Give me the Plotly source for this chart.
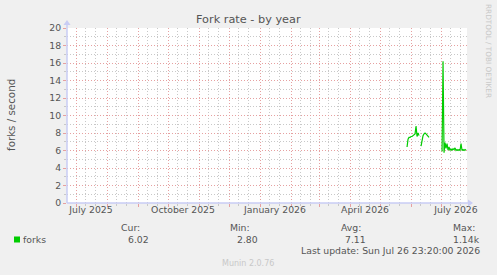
import pandas as pd
import plotly.graph_objects as go

# ---- data ----
seg1_start = "2026-05-28"
seg1_values = [6.4, 7.3, 7.5, 7.5, 7.6, 7.6, 7.7, 7.8, 7.9, 8.8, 7.6, 8.0, 7.7]
seg2_start = "2026-06-11"
seg2_values = [6.5, 7.4, 7.7, 7.9, 8.0, 7.9, 7.8, 7.7, 7.5]
seg3_start = "2026-07-02"
seg3_values = [5.9, 16.2, 5.75, 6.9, 6.25, 6.8, 6.05, 6.4, 6.0, 6.2, 6.0, 6.2, 6.1,
               6.3, 6.0, 6.1, 6.0, 6.1, 6.0, 6.8, 6.0, 6.1, 6.0, 6.1, 6.02]

x_start = "2025-06-21 23:20:00"
x_end = "2026-07-26 23:20:00"
month_starts = pd.date_range("2025-07-01", "2026-07-01", freq="MS")
minor_days = [d + pd.Timedelta(days=k) for d in month_starts.insert(0, pd.Timestamp("2025-06-01")) for k in (9, 19)]
label_dates = ["2025-07-16", "2025-10-16", "2026-01-16", "2026-04-16", "2026-07-16"]
label_texts = ["July 2025", "October 2025", "January 2026", "April 2026", "July 2026"]
y_ticks = list(range(0, 21, 2))

legend_name = "forks"
stat_labels = ["Cur:", "Min:", "Avg:", "Max:"]
stat_values = ["6.02", "2.80", "7.11", "1.14k"]
title = "Fork rate - by year"
y_title = "forks / second"
last_update = "Last update: Sun Jul 26 23:20:00 2026"
footer = "Munin 2.0.76"
side_text = "RRDTOOL / TOBI OETIKER"

# ---- build series ----
xs, ys = [], []
for start, vals in [(seg1_start, seg1_values), (seg2_start, seg2_values), (seg3_start, seg3_values)]:
    d = pd.date_range(start, periods=len(vals), freq="D")
    xs += list(d) + [d[-1] + pd.Timedelta(days=1)]
    ys += list(vals) + [None]

W, H = 497, 275
L, T, PW, PH = 67, 28, 400, 175
def px(x): return (x - L) / PW
def py(y): return (T + PH - y) / PH

FONT = "DejaVu Sans"
TXT = "#555555"
RED = "#E6A0A0"
GRAY = "#C8C8C8"
AXIS = "#C8CCF4"
GREEN = "#00CC00"

fig = go.Figure()
fig.add_trace(go.Scatter(x=xs, y=ys, mode="lines", line=dict(color=GREEN, width=1.2),
                         connectgaps=False, showlegend=False, hoverinfo="skip"))
fig.add_trace(go.Scatter(x=[x_start, x_end], y=[None, None], xaxis="x2", showlegend=False, hoverinfo="skip"))

fig.update_layout(
    width=W, height=H,
    margin=dict(l=L, r=W - L - PW, t=T, b=H - T - PH),
    paper_bgcolor="#F0F0F0", plot_bgcolor="#FFFFFF",
    font=dict(family=FONT, size=9.3, color=TXT),
    xaxis=dict(type="date", range=[x_start, x_end], tickvals=list(month_starts),
               showticklabels=False, showgrid=True, gridcolor=RED, griddash="1px,2px",
               ticks="outside", ticklen=3, tickcolor=RED, showline=False, zeroline=False,
               minor=dict(tickvals=minor_days, showgrid=True, gridcolor=GRAY, griddash="1px,2px",
                          ticks="outside", ticklen=2, tickcolor=GRAY)),
    xaxis2=dict(type="date", range=[x_start, x_end], overlaying="x", anchor="y", side="bottom",
                tickvals=label_dates, ticktext=label_texts, showgrid=False, ticks="",
                showline=False, zeroline=False, tickfont=dict(size=9.3, color=TXT)),
    yaxis=dict(range=[0, 20], tickvals=y_ticks, showgrid=True, gridcolor=RED, griddash="1px,2px",
               ticks="outside", ticklen=3, tickcolor=RED, zeroline=False, showline=False,
               tickfont=dict(size=9.3, color=TXT),
               minor=dict(dtick=1, showgrid=True, gridcolor=GRAY, griddash="1px,2px",
                          ticks="outside", ticklen=2, tickcolor=GRAY)),
)

shapes = []
shapes.append(dict(type="line", xref="paper", yref="paper", x0=0, x1=px(469), y0=0, y1=0,
                   line=dict(color=AXIS, width=1.5)))
shapes.append(dict(type="line", xref="paper", yref="paper", x0=0, x1=0, y0=0, y1=py(23),
                   line=dict(color=AXIS, width=1.5)))
shapes.append(dict(type="path", xref="paper", yref="paper",
                   path=f"M {px(468)} {py(199.5)} L {px(473)} {py(203)} L {px(468)} {py(206.5)} Z",
                   fillcolor=AXIS, line=dict(width=0)))
shapes.append(dict(type="path", xref="paper", yref="paper",
                   path=f"M {px(63.5)} {py(25)} L {px(67)} {py(20)} L {px(70.5)} {py(25)} Z",
                   fillcolor=AXIS, line=dict(width=0)))
shapes.append(dict(type="rect", xref="paper", yref="paper", x0=px(14), x1=px(20), y0=py(242.5), y1=py(236.5),
                   fillcolor=GREEN, line=dict(width=0)))
fig.update_layout(shapes=shapes)

ann = []
def add(text, x, y, xanchor="center", size=9.3, color=TXT, angle=0):
    ann.append(dict(text=text, xref="paper", yref="paper", x=px(x), y=py(y), xanchor=xanchor,
                    yanchor="middle", showarrow=False, textangle=angle,
                    font=dict(family=FONT, size=size, color=color)))

add(title, 248, 19, size=11.3)
add(y_title, 11, 115, size=10.3, angle=-90)
add(side_text, 489, 51, size=7.3, color="#C8C8C8", angle=90)
add(legend_name, 20.5, 239.5, xanchor="left")
hdr_right = [142, 252, 363, 477]
val_right = [151, 260, 367.7, 482]
for lab, v, hx, vx in zip(stat_labels, stat_values, hdr_right, val_right):
    add(lab, hx, 227.5, xanchor="right")
    add(v, vx, 239.5, xanchor="right")
add(last_update, 482, 250.5, xanchor="right")
add(footer, 248, 263, size=8, color="#C8C8C8")
fig.update_layout(annotations=ann)

fig.write_html("out.html")
